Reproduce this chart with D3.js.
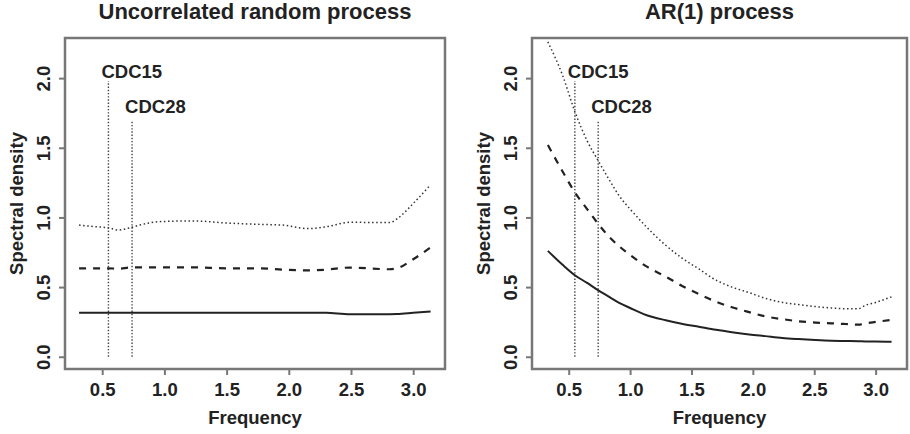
<!DOCTYPE html>
<html><head><meta charset="utf-8">
<script src="https://cdn.jsdelivr.net/npm/d3@7"></script>
<style>
body{margin:0;background:#fff;}
text{font-family:"Liberation Sans",Arial,Helvetica,sans-serif;font-weight:bold;fill:#222;}
</style></head>
<body><svg id="c" width="910" height="434"></svg>
<script>
// ---- data ----
const titles = ["Uncorrelated random process", "AR(1) process"];
const xTicks = [0.5, 1.0, 1.5, 2.0, 2.5, 3.0];
const yTicks = [0.0, 0.5, 1.0, 1.5, 2.0];
const xLabel = "Frequency";
const yLabel = "Spectral density";

const leftFreq  = [0.314, 0.43, 0.55, 0.63, 0.72, 0.8, 0.97, 1.23, 1.5, 1.77, 1.95, 2.15, 2.3, 2.49, 2.81, 2.87, 3.0, 3.14];
const leftUpper = [0.945, 0.935, 0.925, 0.91, 0.925, 0.945, 0.97, 0.975, 0.96, 0.95, 0.945, 0.92, 0.933, 0.965, 0.963, 0.99, 1.1, 1.235];
const leftMid   = [0.635, 0.635, 0.635, 0.632, 0.64, 0.642, 0.642, 0.642, 0.635, 0.635, 0.625, 0.62, 0.625, 0.64, 0.628, 0.635, 0.7, 0.785];
const leftLower = [0.316, 0.316, 0.316, 0.316, 0.316, 0.316, 0.316, 0.316, 0.316, 0.316, 0.316, 0.316, 0.315, 0.305, 0.305, 0.306, 0.315, 0.325];

const rightFreq  = [0.33, 0.45, 0.55, 0.65, 0.735, 0.83, 0.915, 1.0, 1.13, 1.29, 1.42, 1.56, 1.7, 1.83, 1.97, 2.1, 2.24, 2.37, 2.51, 2.64, 2.75, 2.86, 2.92, 3.0, 3.13];
const rightUpper = [2.26, 2.02, 1.76, 1.55, 1.415, 1.27, 1.15, 1.06, 0.935, 0.8, 0.71, 0.63, 0.55, 0.5, 0.46, 0.42, 0.39, 0.375, 0.36, 0.35, 0.345, 0.345, 0.37, 0.39, 0.43];
const rightMid   = [1.52, 1.33, 1.18, 1.06, 0.96, 0.86, 0.79, 0.73, 0.65, 0.575, 0.51, 0.45, 0.395, 0.355, 0.32, 0.29, 0.27, 0.255, 0.245, 0.24, 0.235, 0.23, 0.24, 0.25, 0.265];
const rightLower = [0.76, 0.66, 0.585, 0.53, 0.48, 0.43, 0.385, 0.35, 0.3, 0.262, 0.237, 0.215, 0.193, 0.176, 0.16, 0.148, 0.135, 0.127, 0.12, 0.115, 0.113, 0.111, 0.11, 0.11, 0.108];

const markerNames  = ["CDC15", "CDC28"];
const markerFreq   = [0.55, 0.74];
const markerTop    = [1.98, 1.69];
const markerLabelY = [2.0, 1.75];

const xDomain = [0.2009, 3.2556];
const yDomain = [-0.088, 2.288];

// ---- layout ----
const panels = [
  {title: titles[0], box: {x0: 65, x1: 445, y0: 38, y1: 369}, freq: leftFreq, upper: leftUpper, mid: leftMid, lower: leftLower},
  {title: titles[1], box: {x0: 532, x1: 907, y0: 38, y1: 369}, freq: rightFreq, upper: rightUpper, mid: rightMid, lower: rightLower}
];

const svg = d3.select("#c");
const axisCol = "#777";
const lineCol = "#222";

panels.forEach(p => {
  const b = p.box;
  const x = d3.scaleLinear().domain(xDomain).range([b.x0, b.x1]);
  const y = d3.scaleLinear().domain(yDomain).range([b.y1, b.y0]);
  const g = svg.append("g");
  const cx = (b.x0 + b.x1) / 2, cy = (b.y0 + b.y1) / 2;

  const clipId = "clip" + b.x0;
  svg.append("clipPath").attr("id", clipId).append("rect")
    .attr("x", b.x0).attr("y", b.y0).attr("width", b.x1 - b.x0).attr("height", b.y1 - b.y0);
  const plot = g.append("g").attr("clip-path", `url(#${clipId})`);

  // marker lines
  markerFreq.forEach((f, i) => {
    plot.append("line")
      .attr("x1", x(f)).attr("x2", x(f)).attr("y1", y(0)).attr("y2", y(markerTop[i]))
      .attr("stroke", "#444").attr("stroke-width", 1.4).attr("stroke-dasharray", "1.4,1.8");
    g.append("text").attr("x", x(f) - 7).attr("y", y(markerLabelY[i]))
      .attr("font-size", 18.5).attr("text-anchor", "start").text(markerNames[i]);
  });

  const line = d3.line().x((d, i) => x(p.freq[i])).y(d => y(d)).curve(d3.curveMonotoneX);
  plot.append("path").attr("d", line(p.lower)).attr("fill", "none")
    .attr("stroke", lineCol).attr("stroke-width", 2);
  plot.append("path").attr("d", line(p.mid)).attr("fill", "none")
    .attr("stroke", lineCol).attr("stroke-width", 2.2).attr("stroke-dasharray", "7,7");
  plot.append("path").attr("d", line(p.upper)).attr("fill", "none")
    .attr("stroke", "#333").attr("stroke-width", 1.5).attr("stroke-dasharray", "1.5,2.6");

  // box
  g.append("rect").attr("x", b.x0).attr("y", b.y0).attr("width", b.x1 - b.x0).attr("height", b.y1 - b.y0)
    .attr("fill", "none").attr("stroke", axisCol).attr("stroke-width", 2.5);

  // x axis
  const xa = g.append("g").attr("transform", `translate(0,${b.y1})`)
    .call(d3.axisBottom(x).tickValues(xTicks).tickSize(6).tickPadding(0).tickFormat(d3.format(".1f")));
  xa.select(".domain").remove();
  xa.selectAll("line").attr("stroke", axisCol).attr("stroke-width", 2);
  xa.selectAll("text").attr("font-size", 18.5).attr("y", 21).attr("dy", "0.35em").attr("fill", "#222");

  // y axis
  const ya = g.append("g").attr("transform", `translate(${b.x0},0)`)
    .call(d3.axisLeft(y).tickValues(yTicks).tickSize(6).tickFormat(d3.format(".1f")));
  ya.select(".domain").remove();
  ya.selectAll("line").attr("stroke", axisCol).attr("stroke-width", 2);
  ya.selectAll("text")
    .attr("x", null).attr("dy", null)
    .attr("transform", "translate(-22,0) rotate(-90)")
    .attr("text-anchor", "middle").attr("dominant-baseline", "central")
    .attr("font-size", 18.5).attr("fill", "#222");

  // labels
  g.append("text").attr("x", cx).attr("y", b.y1 + 48).attr("text-anchor", "middle")
    .attr("dominant-baseline", "central").attr("font-size", 18.5).text(xLabel);
  g.append("text").attr("transform", `translate(${b.x0 - 49},${cy}) rotate(-90)`)
    .attr("text-anchor", "middle").attr("dominant-baseline", "central").attr("font-size", 18.5).text(yLabel);
  g.append("text").attr("x", cx).attr("y", 19).attr("text-anchor", "middle")
    .attr("font-size", 22).text(p.title);
});
</script></body></html>
